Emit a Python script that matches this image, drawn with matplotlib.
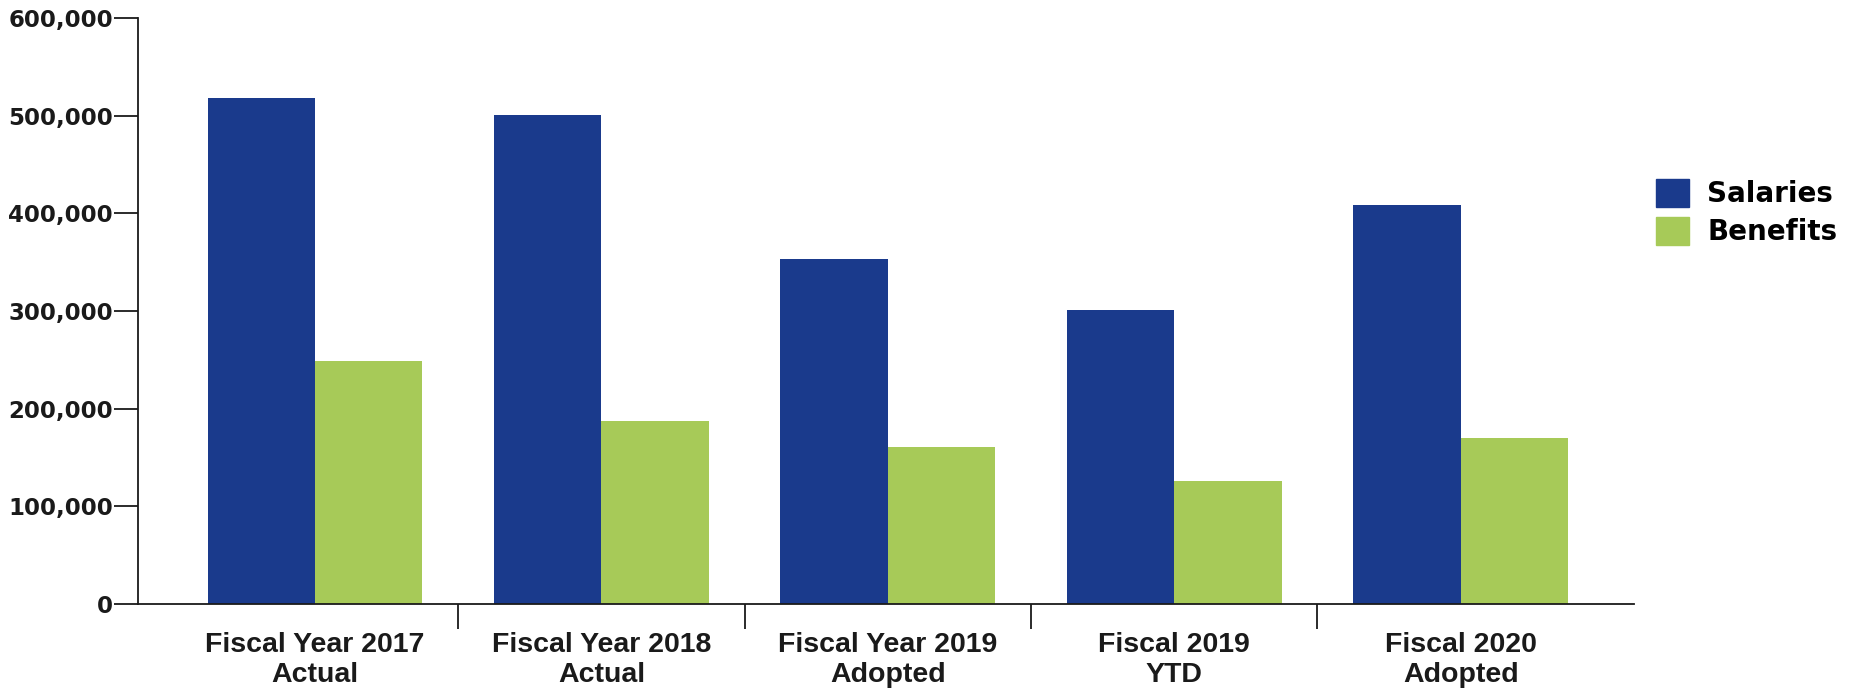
#!/usr/bin/env python3
"""Salaries vs benefits by fiscal year - grouped bar chart."""
import matplotlib.pyplot as plt
import matplotlib.patches as mpatches
from matplotlib.ticker import FuncFormatter, FixedLocator
import numpy as np

BLUE = "#1a3a8c"
GREEN = "#a7ca58"
INK = "#1a1a1a"

categories = ["Fiscal Year 2017\nActual", "Fiscal Year 2018\nActual",
              "Fiscal Year 2019\nAdopted", "Fiscal 2019\nYTD", "Fiscal 2020\nAdopted"]
salaries = [518000, 501000, 353000, 301000, 409000]
benefits = [249000, 187000, 161000, 126000, 170000]
y_ticks = [0, 100000, 200000, 300000, 400000, 500000, 600000]

fig = plt.figure(figsize=(18.5, 6.93), dpi=100)
ax = fig.add_axes([138 / 1850, 1 - 604 / 693, (1634 - 138) / 1850, (604 - 18) / 693])

x = np.arange(len(categories))
w = 0.375
ax.bar(x - w / 2, salaries, width=w, color=BLUE, linewidth=0)
ax.bar(x + w / 2, benefits, width=w, color=GREEN, linewidth=0)

ax.set_xlim(-0.618, 4.605)
ax.set_ylim(0, 600000)

for s in ["top", "right"]:
    ax.spines[s].set_visible(False)
ax.spines["left"].set_color(INK)
ax.spines["bottom"].set_color(INK)
ax.spines["left"].set_linewidth(1.3)
ax.spines["bottom"].set_linewidth(1.3)

ax.set_yticks(y_ticks)
ax.yaxis.set_major_formatter(FuncFormatter(lambda v, p: f"{int(v):,}"))
ax.tick_params(axis="y", length=17, width=1.3, color=INK, pad=1,
               labelsize=16.5, labelcolor=INK)
for lab in ax.get_yticklabels():
    lab.set_fontweight("bold")
    lab.set_family("DejaVu Sans")

ax.set_xticks(x)
ax.set_xticklabels(categories, fontsize=20.5, fontweight="bold",
                   family="Liberation Sans", color=INK, linespacing=1.2)
ax.tick_params(axis="x", which="major", length=0, pad=20)
ax.xaxis.set_minor_locator(FixedLocator(x[:-1] + 0.5))
ax.tick_params(axis="x", which="minor", length=18, width=1.3, color=INK)

handles = [mpatches.Patch(color=BLUE, label="Salaries"),
           mpatches.Patch(color=GREEN, label="Benefits")]
fig.legend(handles=handles, loc="upper left",
           bbox_to_anchor=(1656 / 1850, 1 - 179 / 693),
           frameon=False, borderpad=0, borderaxespad=0,
           handlelength=1.2, handleheight=1.15, handletextpad=0.65,
           labelspacing=0.32,
           prop={"family": "DejaVu Sans", "weight": "bold", "size": 20})

fig.savefig("out.png", dpi=100)
print("wrote out.png")
